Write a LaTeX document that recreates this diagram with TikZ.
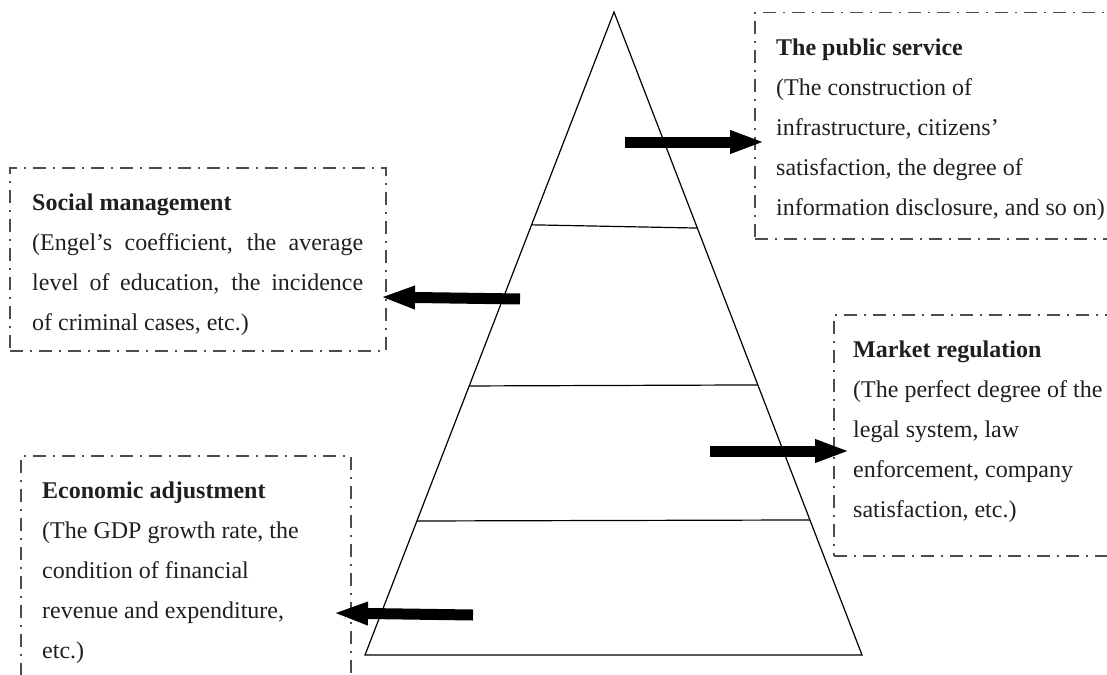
\documentclass[tikz,border=0pt]{standalone}
\usepackage{fontspec}
\setmainfont{Liberation Serif}
\usetikzlibrary{arrows.meta,calc}
\begin{document}
\begin{tikzpicture}[x=1pt,y=-1pt,
  boxframe/.style={draw=black!70, line width=1.5pt, dash pattern=on 13pt off 7pt on 2pt off 7pt, inner sep=0pt, anchor=north west},
  boxtext/.style={anchor=north west, inner sep=0pt, align=left, text=black!88, font=\fontsize{24}{40}\selectfont},
  bigarrow/.style={line width=11pt, -{Triangle[length=35pt,width=21pt]}},
  pyr/.style={line width=1.2pt, line join=miter}]
\useasboundingbox (0,0) rectangle (1107,674);
\clip (0,0) rectangle (1107,674);
% pyramid
\coordinate (apex) at (614,12);
\coordinate (bl) at (365,655);
\coordinate (br) at (862,655);
\draw[pyr] (apex) -- (bl) -- (br) -- cycle;
\draw[pyr] ($(apex)!0.331!(bl)$) -- ($(apex)!0.336!(br)$);
\draw[pyr] ($(apex)!0.5816!(bl)$) -- ($(apex)!0.580!(br)$);
\draw[pyr] ($(apex)!0.7916!(bl)$) -- ($(apex)!0.790!(br)$);
% boxes
\node[boxframe, minimum width=376pt, minimum height=226pt] (psbox) at (754,12) {};
\node[boxframe, minimum width=376pt, minimum height=183pt] (smbox) at (9,167) {};
\node[boxframe, minimum width=297pt, minimum height=241pt] (mrbox) at (833,314) {};
\node[boxframe, minimum width=330pt, minimum height=235pt] (eabox) at (20,455) {};
% texts
\node[boxtext] (pst) at (776,27) {\strut\textbf{The public service}\\(The construction of\\infrastructure, citizens’\\satisfaction, the degree of\\information disclosure, and so on)};
\node[boxtext] (smt) at (32,182) {\strut\textbf{Social management}\\\makebox[331pt][s]{(Engel’s coefficient, the average}\\\makebox[331pt][s]{level of education, the incidence}\\of criminal cases, etc.)};
\node[boxtext] (mrt) at (853,329) {\strut\textbf{Market regulation}\\(The perfect degree of the\\legal system, law\\enforcement, company\\satisfaction, etc.)};
\node[boxtext] (eat) at (42,470) {\strut\textbf{Economic adjustment}\\(The GDP growth rate, the\\condition of financial\\revenue and expenditure,\\etc.)};
% arrows
\coordinate (a1s) at (625,142);
\coordinate (a1e) at (765,142);
\coordinate (a2s) at (520,299);
\coordinate (a2e) at (380,297);
\coordinate (a3s) at (710,451);
\coordinate (a3e) at (850,451);
\coordinate (a4s) at (473,615);
\coordinate (a4e) at (333,613);
\draw[bigarrow] (a1s) -- (a1e);
\draw[bigarrow] (a2s) -- (a2e);
\draw[bigarrow] (a3s) -- (a3e);
\draw[bigarrow] (a4s) -- (a4e);
\end{tikzpicture}
\end{document}
